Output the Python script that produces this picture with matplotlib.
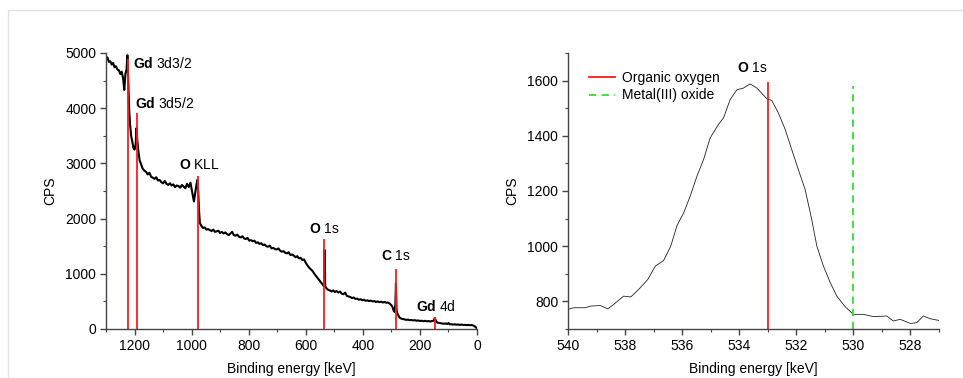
import numpy as np
import matplotlib
matplotlib.use("Agg")
import matplotlib.pyplot as plt
from matplotlib.patches import Rectangle
from matplotlib.ticker import MultipleLocator

plt.rcParams['font.family'] = ['Liberation Sans', 'DejaVu Sans']
plt.rcParams['mathtext.fontset'] = 'custom'
plt.rcParams['mathtext.rm'] = 'Liberation Sans'
plt.rcParams['mathtext.bf'] = 'Liberation Sans:bold'

# survey spectrum (binding energy, CPS)
survey_e = [1300, 1295, 1290, 1285, 1280, 1275, 1270, 1265, 1260, 1255, 1250, 1245, 1240, 1236, 1232,
            1228, 1225, 1222, 1219, 1216, 1212, 1208, 1204, 1200, 1196, 1193, 1190, 1186, 1182, 1178,
            1172, 1166, 1160, 1154, 1148, 1142, 1136, 1130, 1124, 1118, 1112, 1106, 1100, 1094, 1088,
            1082, 1076, 1070, 1064, 1058, 1052, 1046, 1040, 1034, 1028, 1022, 1016, 1010, 1004, 998,
            992, 988, 984, 980, 977, 974, 971, 966, 960, 954, 948, 942, 936, 930, 924, 918, 912, 906,
            900, 894, 888, 882, 876, 870, 864, 858, 852, 846, 840, 834, 828, 822, 816, 810, 804, 798,
            792, 786, 780, 774, 768, 762, 756, 750, 744, 738, 732, 726, 720, 714, 708, 702, 696, 690,
            684, 678, 672, 666, 660, 654, 648, 642, 636, 630, 624, 618, 612, 606, 600, 594, 588, 582,
            576, 570, 564, 558, 552, 546, 540, 536, 534, 532, 528, 522, 516, 510, 504, 498, 492, 486,
            480, 474, 468, 462, 456, 450, 444, 438, 432, 426, 420, 414, 408, 402, 396, 390, 384, 378,
            372, 366, 360, 354, 348, 342, 336, 330, 324, 318, 312, 306, 300, 296, 292, 289, 286, 284,
            282, 279, 276, 272, 266, 260, 254, 248, 242, 236, 230, 224, 218, 212, 206, 200, 194, 188,
            182, 176, 170, 164, 158, 152, 148, 144, 140, 134, 128, 122, 116, 110, 104, 100, 96, 90,
            84, 78, 72, 66, 60, 54, 48, 42, 36, 30, 24, 18, 12, 6, 2]
survey_cps = [4880, 4920, 4840, 4850, 4790, 4820, 4740, 4760, 4700, 4690, 4620, 4660, 4540, 4330, 4620,
              4700, 4960, 4500, 4000, 3730, 3500, 3400, 3280, 3250, 3350, 3640, 3400, 3200, 3050, 3000,
              2910, 2870, 2850, 2800, 2830, 2760, 2740, 2720, 2750, 2690, 2700, 2660, 2640, 2680, 2630,
              2610, 2640, 2600, 2620, 2570, 2600, 2590, 2560, 2610, 2580, 2550, 2630, 2570, 2650, 2480,
              2310, 2450, 2580, 2700, 2500, 2150, 1920, 1870, 1830, 1840, 1800, 1810, 1790, 1775, 1800,
              1760, 1770, 1780,
              1740, 1760, 1730, 1750, 1720, 1700, 1730, 1760, 1700, 1690, 1710, 1670, 1660, 1680, 1640,
              1630, 1650, 1600,
              1610, 1590, 1600, 1560, 1570, 1540, 1555, 1520, 1530, 1500, 1490, 1510, 1460, 1470, 1450,
              1440, 1460, 1420,
              1400, 1410, 1380, 1370, 1390, 1340, 1350, 1330, 1300, 1320, 1280, 1290, 1250, 1260, 1200,
              1150, 1110, 1080,
              1050, 1000, 960, 920, 880, 840, 800, 770, 1430, 780, 740, 710, 700, 680, 700, 670, 690, 660,
              680, 640, 630, 660, 600, 590, 580, 560, 570, 545, 550, 530, 540, 520, 530, 510, 520, 505,
              515, 500, 505, 490, 500, 485, 495, 480, 490, 475, 480, 460, 430, 400, 330, 310, 450, 830,
              350, 280, 250, 210, 190, 180, 175, 165, 170, 160, 165, 155, 160, 150, 155, 145, 150, 140,
              148, 138, 145, 135, 145, 150, 200, 150, 120, 110, 105, 100, 95, 100, 90, 110, 85, 88,
              80, 85, 78, 82, 75, 80, 72, 76, 70, 74, 68, 72, 60, 40, 20]

# peak markers in the survey
peak_e = [1223, 1192, 979, 535, 284, 147]
peak_top = [4900, 3920, 2780, 1635, 1090, 210]
peak_names = [r'$\mathbf{Gd}$ 3d3/2', r'$\mathbf{Gd}$ 3d5/2', r'$\mathbf{O}$ KLL',
              r'$\mathbf{O}$ 1s', r'$\mathbf{C}$ 1s', r'$\mathbf{Gd}$ 4d']
label_e = [1205, 1197, 1044, 588, 336, 214]
label_cps = [4815, 4090, 2972, 1812, 1328, 404]

# high resolution O 1s
o1s_e = [540.0, 539.8, 539.4, 539.2, 538.87, 538.6, 538.4, 538.05, 537.8, 537.5, 537.2, 536.94,
         536.65, 536.4, 536.18, 535.95, 535.72, 535.48, 535.25, 535.02, 534.73, 534.55, 534.32,
         534.08, 533.85, 533.62, 533.38, 533.03, 532.86, 532.63, 532.39, 532.16, 531.93, 531.69,
         531.46, 531.28, 531.05, 530.81, 530.58, 530.29, 530.0, 529.65, 529.3, 528.83, 528.6,
         528.36, 528.0, 527.78, 527.55, 527.3, 527.0]
o1s_cps = [771, 777, 777, 783, 785, 773, 789, 819, 816, 846, 880, 928, 948, 1000, 1075, 1120, 1181,
           1254, 1314, 1392, 1441, 1465, 1531, 1567, 1573, 1588, 1573, 1534, 1528, 1483, 1423, 1350,
           1278, 1205, 1097, 1000, 928, 868, 819, 781, 753, 753, 745, 747, 729, 735, 720, 723, 747,
           737, 731]
organic_e, organic_top = 533.0, 1590
oxide_e, oxide_top = 530.0, 1580

fs = 10

fig = plt.figure(figsize=(9.63, 3.78), dpi=100)
fig.patches.append(Rectangle((8 / 963, -0.1), 1.2, 1.1 - 10 / 378, transform=fig.transFigure,
                             fill=False, edgecolor='#e2e2e2', linewidth=1))

ax1 = fig.add_axes([106 / 963, 1 - 329 / 378, 371 / 963, 276 / 378])
ax2 = fig.add_axes([568 / 963, 1 - 329 / 378, 371 / 963, 276 / 378])

ax1.plot(survey_e, survey_cps, color='black', linewidth=1.5)
ax1.vlines(peak_e, 0, peak_top, color='#ff1a1a', linewidth=1.3)
for name, x, y in zip(peak_names, label_e, label_cps):
    ax1.text(x, y, name, fontsize=fs, ha='left', va='center')
ax1.set_xlim(1300, 0)
ax1.set_ylim(0, 5000)
ax1.xaxis.set_major_locator(MultipleLocator(200))
ax1.xaxis.set_minor_locator(MultipleLocator(100))
ax1.yaxis.set_major_locator(MultipleLocator(1000))
ax1.yaxis.set_minor_locator(MultipleLocator(500))

ax2.plot(o1s_e, o1s_cps, color='#222222', linewidth=0.6)
ax2.plot([organic_e, organic_e], [700, organic_top], color='#ff1a1a', linewidth=1.3,
         label='Organic oxygen')
ax2.plot([oxide_e, oxide_e], [700, oxide_top], color='#33dd33', linewidth=1.3,
         linestyle=(0, (4, 3)), label='Metal(III) oxide')
ax2.text(533.55, 1645, r'$\mathbf{O}$ 1s', fontsize=fs, ha='center', va='center')
ax2.set_xlim(540, 527)
ax2.set_ylim(700, 1700)
ax2.xaxis.set_major_locator(MultipleLocator(2))
ax2.xaxis.set_minor_locator(MultipleLocator(1))
ax2.yaxis.set_major_locator(MultipleLocator(200))
ax2.yaxis.set_minor_locator(MultipleLocator(100))
ax2.legend(loc='upper left', bbox_to_anchor=(0.03, 0.97), frameon=False, fontsize=fs,
           handlelength=1.9, handletextpad=0.5, labelspacing=0.25, borderaxespad=0.3)

for ax in (ax1, ax2):
    for side in ('top', 'right'):
        ax.spines[side].set_visible(False)
    for side in ('left', 'bottom'):
        ax.spines[side].set_color('#444444')
        ax.spines[side].set_linewidth(1.0)
    ax.tick_params(which='major', direction='out', length=4, width=1, color='#444444',
                   labelsize=fs, pad=3)
    ax.tick_params(which='minor', direction='out', length=2.5, width=0.8, color='#444444')
    ax.set_xlabel('Binding energy [keV]', fontsize=fs, labelpad=7)
    ax.set_ylabel('CPS', fontsize=fs, labelpad=6)

fig.savefig('out.png', dpi=100)
